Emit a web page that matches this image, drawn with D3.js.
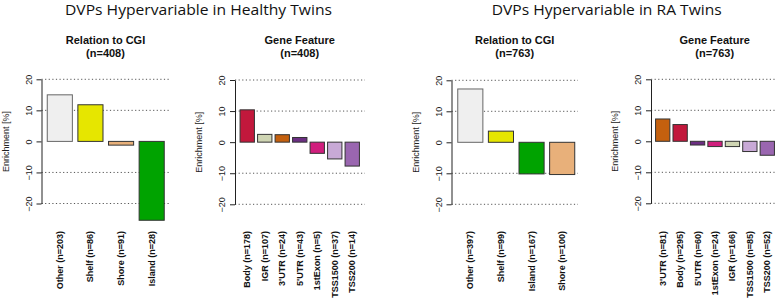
<!DOCTYPE html>
<html>
<head>
<meta charset="utf-8">
<script src="https://cdn.jsdelivr.net/npm/d3@7"></script>
<style>
  body { margin: 0; background: #fff; }
  svg { display: block; }
</style>
</head>
<body>
<div id="chart"></div>
<script>
// --- data ---
const healthyCgiCats = ["Other (n=203)", "Shelf (n=86)", "Shore (n=91)", "Island (n=28)"];
const healthyCgiVals = [15.0, 11.8, -1.2, -25.4];
const healthyCgiCols = ["#efefef", "#e6e600", "#e8b07a", "#00a300"];

const healthyGeneCats = ["Body (n=178)", "IGR (n=107)", "3'UTR (n=24)", "5'UTR (n=43)", "1stExon (n=5)", "TSS1500 (n=37)", "TSS200 (n=14)"];
const healthyGeneVals = [10.4, 2.5, 2.4, 1.5, -3.6, -5.4, -7.7];
const healthyGeneCols = ["#c2183c", "#cfd5b3", "#c4600e", "#6b2e82", "#d01e7d", "#c8a9d6", "#9a66b0"];

const raCgiCats = ["Other (n=397)", "Shelf (n=99)", "Island (n=167)", "Shore (n=100)"];
const raCgiVals = [17.2, 3.6, -10.2, -10.4];
const raCgiCols = ["#efefef", "#e6e600", "#00a300", "#e8b07a"];

const raGeneCats = ["3'UTR (n=81)", "Body (n=295)", "5'UTR (n=60)", "1stExon (n=24)", "IGR (n=166)", "TSS1500 (n=85)", "TSS200 (n=52)"];
const raGeneVals = [7.2, 5.4, -1.2, -1.7, -1.7, -3.3, -4.5];
const raGeneCols = ["#c4600e", "#c2183c", "#6b2e82", "#d01e7d", "#cfd5b3", "#c8a9d6", "#9a66b0"];

const yTicks = [-20, -10, 0, 10, 20];
const gridVals = [-20, -10, 10, 20];

const width = 775, height = 299;

const svg = d3.select("#chart").append("svg")
    .attr("width", width)
    .attr("height", height);

// big titles (Calibri-like)
svg.append("text")
    .attr("x", 198.5).attr("y", 15)
    .attr("text-anchor", "middle")
    .attr("font-family", "Open Sans, Lato, sans-serif")
    .attr("font-size", 14)
    .attr("textLength", 267).attr("lengthAdjust", "spacingAndGlyphs")
    .attr("fill", "#111")
    .text("DVPs Hypervariable in Healthy Twins");

svg.append("text")
    .attr("x", 606.7).attr("y", 15)
    .attr("text-anchor", "middle")
    .attr("font-family", "Open Sans, Lato, sans-serif")
    .attr("font-size", 14)
    .attr("textLength", 230).attr("lengthAdjust", "spacingAndGlyphs")
    .attr("fill", "#111")
    .text("DVPs Hypervariable in RA Twins");

// one R-style barplot panel
function panel(o) {
  const g = svg.append("g").attr("font-family", "Liberation Sans, Arial, sans-serif");

  const y = d3.scaleLinear().domain([-20, 20]).range([o.yBottom, o.yTop]);
  const x = d3.scaleBand()
      .domain(o.cats)
      .range(o.xRange)
      .paddingInner(0.18)
      .paddingOuter(0.09);

  // dotted grid
  g.selectAll("line.grid")
    .data(gridVals)
    .join("line")
    .attr("x1", o.axisX).attr("x2", o.gridEnd)
    .attr("y1", d => y(d)).attr("y2", d => y(d))
    .attr("stroke", "#444")
    .attr("stroke-width", 0.9)
    .attr("stroke-dasharray", "1.2,2.4");

  // bars
  g.selectAll("rect")
    .data(o.vals)
    .join("rect")
    .attr("x", (d, i) => x(o.cats[i]))
    .attr("width", x.bandwidth())
    .attr("y", d => y(Math.max(0, d)))
    .attr("height", d => Math.abs(y(d) - y(0)))
    .attr("fill", (d, i) => o.cols[i])
    .attr("stroke", (d, i) => o.cols[i] === "#efefef" ? "#666" : "#333")
    .attr("stroke-width", 1);

  // y axis, ticks out to the left, labels rotated
  const ax = g.append("g")
      .attr("transform", `translate(${o.axisX},0)`)
      .call(d3.axisLeft(y).tickValues(yTicks).tickSize(5).tickSizeOuter(0));
  ax.select(".domain").attr("stroke", "#222");
  ax.selectAll(".tick line").attr("stroke", "#222");
  ax.selectAll(".tick text")
      .attr("font-size", 9)
      .attr("fill", "#222")
      .attr("x", null).attr("dy", null)
      .attr("text-anchor", "middle")
      .attr("transform", "translate(-10,0) rotate(-90)");

  g.append("text")
    .attr("transform", `translate(${o.axisX - 33},${y(0)}) rotate(-90)`)
    .attr("text-anchor", "middle")
    .attr("font-size", 9)
    .attr("fill", "#222")
    .text("Enrichment [%]");

  // category labels
  g.selectAll("text.cat")
    .data(o.cats)
    .join("text")
    .attr("class", "cat")
    .attr("transform", d => `translate(${x(d) + x.bandwidth() / 2 + 3},231) rotate(-90)`)
    .attr("text-anchor", "end")
    .attr("font-size", 9)
    .attr("font-weight", "bold")
    .attr("fill", "#111")
    .text(d => d);

  // panel title
  const t = g.append("text")
    .attr("x", o.titleX).attr("y", 43.5)
    .attr("text-anchor", "middle")
    .attr("font-size", 11)
    .attr("font-weight", "bold")
    .attr("fill", "#111");
  t.append("tspan").attr("x", o.titleX).text(o.title);
  t.append("tspan").attr("x", o.titleX).attr("dy", 13).text(o.sub);
}

panel({ cats: healthyCgiCats, vals: healthyCgiVals, cols: healthyCgiCols,
  axisX: 41.5, gridEnd: 170, xRange: [44.5, 167], yTop: 79.3, yBottom: 203.5,
  titleX: 105.5, title: "Relation to CGI", sub: "(n=408)" });

panel({ cats: healthyGeneCats, vals: healthyGeneVals, cols: healthyGeneCols,
  axisX: 235, gridEnd: 365, xRange: [238.5, 361], yTop: 80, yBottom: 204.3,
  titleX: 299.7, title: "Gene Feature", sub: "(n=408)" });

panel({ cats: raCgiCats, vals: raCgiVals, cols: raCgiCols,
  axisX: 451.5, gridEnd: 578, xRange: [455, 577.5], yTop: 80.3, yBottom: 204.3,
  titleX: 514.7, title: "Relation to CGI", sub: "(n=763)" });

panel({ cats: raGeneCats, vals: raGeneVals, cols: raGeneCols,
  axisX: 651, gridEnd: 775, xRange: [654, 776], yTop: 79.3, yBottom: 203.3,
  titleX: 714.7, title: "Gene Feature", sub: "(n=763)" });
</script>
</body>
</html>
